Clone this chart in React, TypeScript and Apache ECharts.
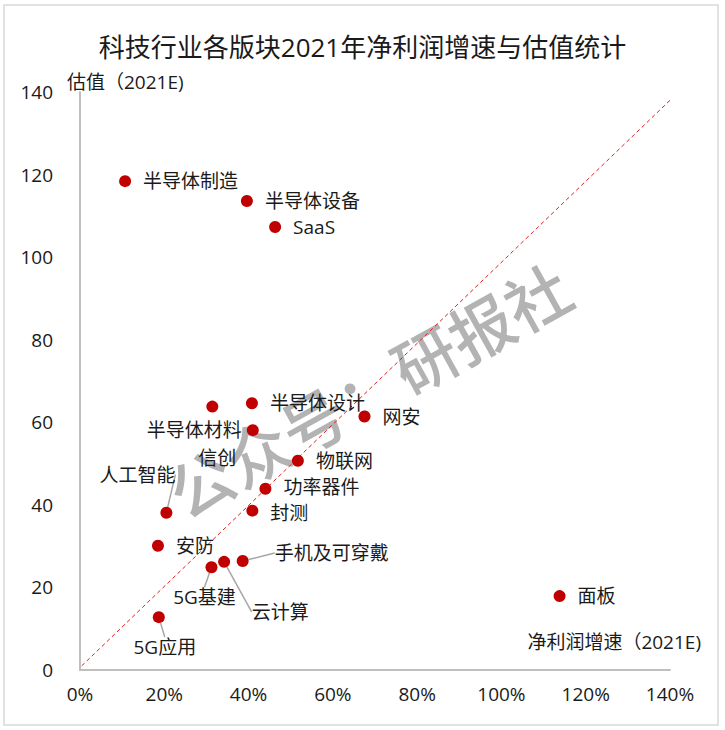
import React, { useEffect, useRef } from "react";
import * as echarts from "echarts";

const FONT = "Open Sans, Noto Sans CJK SC, sans-serif";
const CJK = "Noto Sans CJK SC, sans-serif";

const sectors = [
  "半导体制造", "半导体设备", "SaaS", "半导体设计", "信创", "半导体材料", "网安",
  "物联网", "功率器件", "封测", "人工智能", "安防", "5G基建", "云计算",
  "手机及可穿戴", "5G应用", "面板",
];
// 2021E net profit growth (%)
const profitGrowth = [10.7, 39.6, 46.3, 40.8, 31.4, 41.0, 67.5, 51.7, 44.0, 40.9, 20.5, 18.5, 31.2, 34.2, 38.6, 18.7, 113.8];
// 2021E valuation
const valuation = [118.4, 113.6, 107.3, 64.6, 63.8, 58.1, 61.4, 50.7, 43.9, 38.6, 38.1, 30.1, 24.9, 26.2, 26.4, 12.8, 17.9];

const xTicks = [0, 20, 40, 60, 80, 100, 120, 140];
const yTicks = [0, 20, 40, 60, 80, 100, 120, 140];
const diagonal = [[0.4, 1], [140, 138]];

// label placement config (offset of label centre from the point, for moved labels)
const movedLabels: Record<string, { dx: number; dy: number; line: boolean }> = {
  "人工智能": { dx: -29, dy: -38, line: true },
  "5G基建": { dx: -7, dy: 30, line: true },
  "云计算": { dx: 56, dy: 50, line: true },
  "手机及可穿戴": { dx: 89, dy: -8, line: true },
  "5G应用": { dx: 6, dy: 30, line: true },
  "信创": { dx: 5, dy: 51, line: false },
};
// small vertical nudges for right-side labels that sit close together
const labelNudges: Record<string, number> = { "功率器件": -2, "封测": 2 };
const leftLabels = ["半导体材料"];

export default function App() {
  const ref = useRef<HTMLDivElement>(null);
  useEffect(() => {
    document.body.style.margin = "0";
    if (!ref.current) return;
    const chart = echarts.init(ref.current, undefined, { renderer: "svg" });
    const data = sectors.map((name, i) => {
      const moved = movedLabels[name];
      const item: any = { name, value: [profitGrowth[i], valuation[i]] };
      if (moved) {
        item.label = { position: "inside" };
        item.labelLine = { show: moved.line };
      } else if (leftLabels.includes(name)) {
        item.label = { position: "left", distance: 5 };
      }
      return item;
    });
    chart.setOption({
      animation: false,
      backgroundColor: "#ffffff",
      title: {
        text: "科技行业各版块2021年净利润增速与估值统计",
        left: "center",
        top: 29,
        textStyle: { fontFamily: FONT, fontSize: 26, fontWeight: "normal", color: "#1a1a1a" },
      },
      grid: { left: 80, right: 55, top: 92, bottom: 60 },
      xAxis: {
        type: "value",
        min: xTicks[0],
        max: xTicks[xTicks.length - 1],
        interval: 20,
        axisLine: { show: true, lineStyle: { color: "#bfbfbf", width: 2 } },
        axisTick: { show: false },
        splitLine: { show: false },
        axisLabel: { formatter: "{value}%", fontFamily: FONT, fontSize: 19, color: "#1a1a1a", margin: 14 },
      },
      yAxis: {
        type: "value",
        min: yTicks[0],
        max: yTicks[yTicks.length - 1],
        interval: 20,
        axisLine: { show: true, lineStyle: { color: "#bfbfbf", width: 2 } },
        axisTick: { show: false },
        splitLine: { show: false },
        axisLabel: { fontFamily: FONT, fontSize: 19, color: "#1a1a1a", margin: 27 },
      },
      graphic: [
        {
          type: "rect",
          shape: { x: 4, y: 5, width: 714, height: 720 },
          style: { fill: "none", stroke: "#d9d9d9", lineWidth: 1.5 },
          silent: true,
        },
        {
          type: "text",
          x: 67,
          y: 82,
          style: { text: "估值（2021E)", fontFamily: FONT, fontSize: 19, fill: "#1a1a1a", align: "left", verticalAlign: "middle" },
        },
        {
          type: "text",
          x: 701,
          y: 642,
          style: { text: "净利润增速（2021E)", fontFamily: FONT, fontSize: 19, fill: "#1a1a1a", align: "right", verticalAlign: "middle" },
        },
        {
          type: "text",
          x: 368,
          y: 388,
          rotation: (29 * Math.PI) / 180,
          z: 0,
          silent: true,
          style: {
            text: "公众号：研报社",
            fontFamily: CJK,
            fontSize: 64,
            fontWeight: 500,
            fill: "#b3b3b3",
            align: "center",
            verticalAlign: "middle",
          },
        },
      ],
      series: [
        {
          type: "line",
          data: diagonal,
          symbol: "none",
          silent: true,
          lineStyle: { color: "#e02020", width: 1, type: [4, 3] },
          z: 2,
        },
        {
          type: "scatter",
          data,
          symbol: "circle",
          symbolSize: 12,
          itemStyle: { color: "#c00000", opacity: 1 },
          z: 3,
          label: {
            show: true,
            formatter: "{b}",
            position: "right",
            distance: 12,
            fontFamily: FONT,
            fontSize: 19,
            lineHeight: 20,
            color: "#1a1a1a",
          },
          labelLine: { show: false, lineStyle: { color: "#a6a6a6", width: 1.5 } },
          labelLayout: (params: any) => {
            const name = sectors[params.dataIndex];
            const m = movedLabels[name];
            if (m) return { dx: m.dx, dy: m.dy };
            if (labelNudges[name] !== undefined) return { dy: labelNudges[name] };
            return {};
          },
        },
      ],
    });
    return () => chart.dispose();
  }, []);
  return <div ref={ref} style={{ width: 725, height: 730 }} />;
}
